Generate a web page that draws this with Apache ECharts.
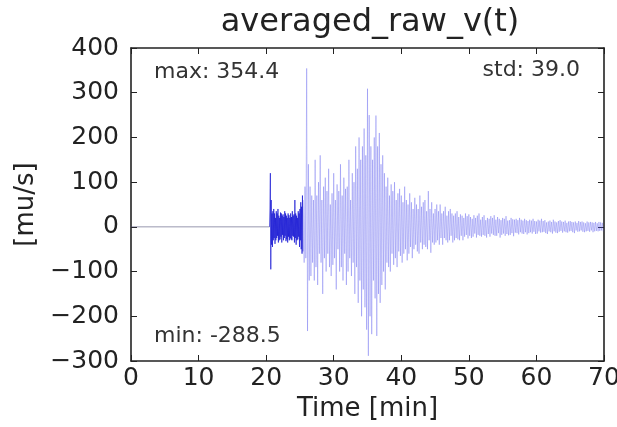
<!DOCTYPE html>
<html>
<head>
<meta charset="utf-8">
<script src="https://cdn.jsdelivr.net/npm/echarts@6/dist/echarts.min.js"></script>
<style>html,body{margin:0;padding:0;background:#fff}#c{width:617px;height:427px}</style>
</head>
<body>
<div id="c"></div>
<script>
// ---- data ----
const xTicks = [0, 10, 20, 30, 40, 50, 60, 70];
const yTicks = [-300, -200, -100, 0, 100, 200, 300, 400];
const titleText = 'averaged_raw_v(t)';
const statMax = 'max: 354.4';
const statMin = 'min: -288.5';
const statStd = 'std: 39.0';

// quiet pre-event trace
const quietTimes = [0, 20.5];
const quietValues = [0, 0];

// onset (sampling start / step in minutes)
const onsetStart = 20.5, onsetStep = 0.0625;
const onsetValues = [
  0, 40, 120, -95, 60, -40, 30, -45, 35, -30, 40, -25, 30, -38, 20, -30,
  35, -25, 30, -20, 40, -35, 25, -30, 20, -28, 32, -22, 30, -35, 25, -18,
  28, -30, 22, -25, 35, -20, 30, -32, 25, -28, 20, -35, 30, -22, 26, -30,
  20, -25, 30, -28, 22, -30, 35, -20, 25, -22, 28, -35, 60, -25, 30, -40,
  25, -30, 20, -28, 35, -22, 30, -45, 40, -30, 55, -50, 45, -60, 70, -55
];

// main wave train
const mainStart = 25.5, mainStep = 0.125;
const mainValues = [
  60, -80, 90, -70,
  354.4, -233, 140, -120, 90, -110, 70, -80,
  60, -120, 150, -90, 70, -130, 100, -60,
  160, -80, 60, -150, 90, -70, 110, -100,
  80, -60, 130, -90, 50, -110, 75, -85,
  120, -70, 60, -140, 95, -50, 80, -100,
  140, -90, 70, -120, 110, -60, 85, -130,
  90, -100, 150, -70, 60, -110, 120, -80,
  100, -150, 180, -90, 130, -170, 200, -120,
  150, -200, 180, -140, 220, -180, 160, -230,
  309, -288.5, 250, -200, 180, -240, 150, -120,
  200, -160, 249, -244, 180, -150, 210, -170,
  140, -130, 160, -100, 120, -140, 90, -80,
  110, -90, 70, -100, 95, -60, 80, -85,
  100, -70, 60, -90, 75, -55, 85, -65,
  70, -80, 55, -60, 90, -50, 60, -75,
  50, -60, 75, -45, 55, -70, 40, -50,
  65, -40, 50, -55, 40, -60, 70, -35,
  45, -50, 55, -40, 60, -45, 35, -50,
  80, -30, 40, -58, 55, -35, 30, -40,
  40, -35, 50, -30, 35, -40, 50, -25,
  30, -40, 35, -25, 45, -30, 25, -35,
  35, -30, 40, -20, 30, -35, 25, -30,
  30, -25, 35, -28, 22, -30, 28, -20,
  25, -30, 20, -22, 30, -18, 24, -26,
  28, -20, 22, -25, 18, -22, 26, -15,
  20, -24, 25, -18, 30, -20, 16, -22,
  22, -18, 26, -20, 15, -24, 20, -16,
  18, -22, 24, -15, 20, -18, 26, -20,
  16, -20, 22, -14, 18, -24, 15, -18,
  20, -15, 18, -20, 24, -16, 14, -19,
  15, -18, 20, -14, 17, -21, 16, -13,
  18, -14, 15, -17, 20, -12, 16, -15,
  14, -16, 18, -12, 15, -17, 13, -14,
  16, -12, 14, -15, 18, -11, 13, -16,
  12, -15, 16, -10, 14, -13, 18, -12,
  13, -11, 15, -14, 10, -16, 12, -10,
  14, -12, 11, -15, 16, -10, 12, -13,
  10, -14, 13, -11, 15, -9, 12, -13,
  11, -10, 14, -12, 9, -13, 12, -10,
  13, -9, 11, -12, 10, -14, 12, -8,
  9, -11, 13, -10, 11, -8, 12, -11,
  10, -12, 8, -10, 12, -9, 10, -11,
  11, -8, 10, -12, 9, -10, 11, -9,
  8, -10, 11, -9, 10, -8, 9, -10
];

// ---- build series data ----
const quietData = quietTimes.map((t, i) => [t, quietValues[i]]);
const onsetData = onsetValues.map((v, i) => [onsetStart + i * onsetStep, v]);
const mainData = mainValues.map((v, i) => [mainStart + i * mainStep, v]);

const FONT = 'DejaVu Sans';
const minus = v => String(v).replace('-', '\u2212');

const chart = echarts.init(document.getElementById('c'), null, {renderer: 'canvas'});
const axisLine = {show: true, onZero: false, lineStyle: {color: '#222', width: 1.6}};
const tick = {show: true, inside: true, length: 6, lineStyle: {color: '#222', width: 1}};
const statFont = '22px "' + FONT + '"';

chart.setOption({
  animation: false,
  backgroundColor: '#fff',
  title: {
    text: titleText, left: 365, top: 2, textAlign: 'center',
    textStyle: {fontFamily: FONT, fontSize: 32, fontWeight: 'normal', color: '#222'}
  },
  grid: {left: 131, right: 13, top: 48, bottom: 66, containLabel: false, outerBoundsMode: 'none'},
  xAxis: [{
    type: 'value', min: xTicks[0], max: xTicks[xTicks.length - 1], interval: 10,
    name: 'Time [min]', nameLocation: 'middle', nameGap: 32,
    nameTextStyle: {fontFamily: FONT, fontSize: 26, color: '#222'},
    axisLine, axisTick: tick, splitLine: {show: false},
    axisLabel: {fontFamily: FONT, fontSize: 25, color: '#222', margin: 5}
  }, {
    type: 'value', position: 'top', min: xTicks[0], max: xTicks[xTicks.length - 1], interval: 10,
    axisLine, axisTick: tick, axisLabel: {show: false}, splitLine: {show: false}
  }],
  yAxis: [{
    type: 'value', min: yTicks[0], max: yTicks[yTicks.length - 1], interval: 100,
    name: '[mu/s]', nameLocation: 'middle', nameGap: 87,
    nameTextStyle: {fontFamily: FONT, fontSize: 26, color: '#222'},
    axisLine, axisTick: tick, splitLine: {show: false},
    axisLabel: {fontFamily: FONT, fontSize: 25, color: '#222', margin: 12, formatter: minus}
  }, {
    type: 'value', position: 'right', min: yTicks[0], max: yTicks[yTicks.length - 1], interval: 100,
    axisLine, axisTick: tick, axisLabel: {show: false}, splitLine: {show: false}
  }],
  series: [
    {type: 'line', data: quietData, showSymbol: false, silent: true,
     lineStyle: {color: 'rgba(70,70,110,0.7)', width: 0.8}},
    {type: 'line', data: mainData, showSymbol: false, silent: true,
     lineStyle: {color: 'rgba(80,80,235,0.45)', width: 0.7}},
    {type: 'line', data: onsetData, showSymbol: false, silent: true,
     lineStyle: {color: 'rgba(20,20,210,0.85)', width: 0.8}}
  ],
  graphic: [
    {type: 'text', left: 154, top: 61, style: {text: statMax, font: statFont, fill: '#333'}},
    {type: 'text', right: 37, top: 59, style: {text: statStd, font: statFont, fill: '#333'}},
    {type: 'text', left: 154, top: 325, style: {text: statMin, font: statFont, fill: '#333'}}
  ]
});
</script>
</body>
</html>
